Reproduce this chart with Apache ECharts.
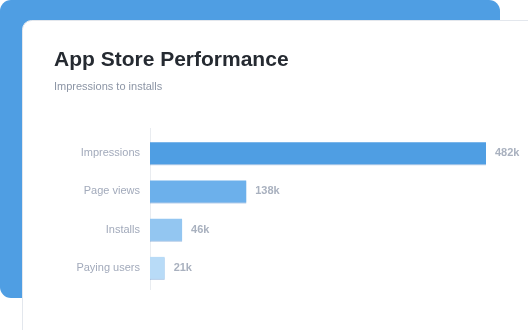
<!DOCTYPE html>
<html>
<head>
<meta charset="utf-8">
<script src="https://cdn.jsdelivr.net/npm/echarts@6/dist/echarts.min.js"></script>
<style>
    html, body { margin: 0; padding: 0; background: #fff; }
    #main { width: 528px; height: 330px; }
</style>
</head>
<body>
<div id="main"></div>
<script>
// funnel steps, values in thousands
var categories = ['Impressions', 'Page views', 'Installs', 'Paying users'];
var values = [482, 138, 46, 21];
var barColors = ['#4f9ee3', '#6cb0eb', '#93c6f1', '#b8dbf7'];

var myChart = echarts.init(document.getElementById('main'));

var barData = [];
for (var i = 0; i < values.length; i++) {
    barData.push({
        value: values[i],
        itemStyle: { color: barColors[i] }
    });
}

var option = {
    animation: false,
    graphic: [
        {
            type: 'rect',
            z: -20,
            shape: { x: 0, y: 0, width: 500, height: 298, r: 11 },
            style: { fill: '#4f9ee3' }
        },
        {
            type: 'rect',
            z: -10,
            shape: { x: 22.5, y: 20.5, width: 560, height: 360, r: 9 },
            style: { fill: '#ffffff', stroke: '#e3e7ed', lineWidth: 1 }
        },
        {
            // the axis rule runs a bit past the bars at both ends
            type: 'line',
            z: 1,
            shape: { x1: 150.5, y1: 128, x2: 150.5, y2: 290 },
            style: { stroke: '#e9ecf0', lineWidth: 1 }
        }
    ],
    title: {
        text: 'App Store Performance',
        subtext: 'Impressions to installs',
        left: 49,
        top: 45,
        itemGap: 10,
        textStyle: {
            fontFamily: 'Liberation Sans, Arial, sans-serif',
            fontSize: 21,
            fontWeight: 'bold',
            color: '#252a31'
        },
        subtextStyle: {
            fontFamily: 'Liberation Sans, Arial, sans-serif',
            fontSize: 11,
            color: '#8c95a5'
        }
    },
    grid: {
        left: 150,
        top: 134,
        width: 336,
        height: 153,
        containLabel: false
    },
    xAxis: {
        type: 'value',
        min: 0,
        max: 482,
        show: false
    },
    yAxis: {
        type: 'category',
        inverse: true,
        data: categories,
        axisLine: { show: false },
        axisTick: { show: false },
        splitLine: { show: false },
        axisLabel: {
            margin: 10,
            fontFamily: 'Liberation Sans, Arial, sans-serif',
            fontSize: 11,
            color: '#a2aabb'
        }
    },
    series: [
        {
            type: 'bar',
            data: barData,
            barWidth: 22,
            itemStyle: {
                shadowColor: 'rgba(40, 110, 190, 0.35)',
                shadowOffsetY: 1,
                shadowBlur: 0
            },
            label: {
                show: true,
                position: 'right',
                distance: 9,
                formatter: function (p) { return p.value + 'k'; },
                fontFamily: 'Liberation Sans, Arial, sans-serif',
                fontSize: 11,
                fontWeight: 'bold',
                color: '#a9b1bf'
            }
        }
    ]
};
myChart.setOption(option);
</script>
</body>
</html>
